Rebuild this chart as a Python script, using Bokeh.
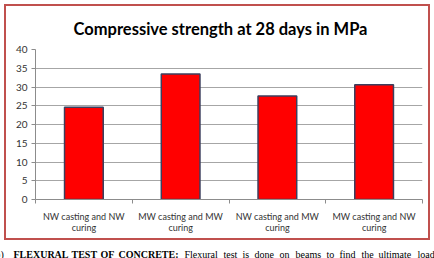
from bokeh.plotting import figure
from bokeh.layouts import column
from bokeh.models import Range1d, FixedTicker
from bokeh.core.properties import value
from bokeh.embed import file_html
from bokeh.resources import INLINE

# Compressive strength results (MPa) for each casting / curing water combination
categories = [
    "NW casting and NW\ncuring",
    "MW casting and MW\ncuring",
    "NW casting and MW\ncuring",
    "MW casting and NW\ncuring",
]
strength = [24.6, 33.5, 27.6, 30.6]
y_ticks = [0, 5, 10, 15, 20, 25, 30, 35, 40]

centers = [i + 0.5 for i in range(len(categories))]
bounds = list(range(len(categories) + 1))

p = figure(
    width=422, height=232,
    x_range=Range1d(0, len(categories)), y_range=Range1d(0, 40),
    output_backend="svg", toolbar_location=None,
    min_border_left=29, min_border_right=6,
    min_border_top=41, min_border_bottom=39,
    margin=(6, 0, 0, 6),
    styles={"outline": "2px solid #c0504d"},
)
p.background_fill_color = "white"
p.border_fill_color = "white"
p.outline_line_color = None

p.title.text = "Compressive strength at 28 days in MPa"
p.title.align = "left"
p.title.offset = 38
p.title.standoff = 21
p.title.text_font = "Lato"
p.title.text_font_style = "bold"
p.title.text_font_size = "16.5px"
p.title.text_color = "#000000"

# bars
p.vbar(x=centers, top=strength, width=0.4, bottom=0,
       fill_color="#ff0000", line_color="#3c3f5e", line_width=1.5)

# y axis
p.yaxis.ticker = FixedTicker(ticks=y_ticks)
p.yaxis.axis_line_color = "#8c8c8c"
p.yaxis.major_tick_line_color = "#8c8c8c"
p.yaxis.major_tick_out = 4
p.yaxis.major_tick_in = 0
p.yaxis.minor_tick_line_color = None
p.yaxis.major_label_standoff = 4
p.yaxis.major_label_text_font = "Lato"
p.yaxis.major_label_text_font_size = "10px"
p.yaxis.major_label_text_color = "#333333"

# x axis: labels at bar centres, tick marks between categories
p.xaxis.ticker = FixedTicker(ticks=centers, minor_ticks=bounds)
p.xaxis.major_label_overrides = {c: name for c, name in zip(centers, categories)}
p.xaxis.axis_line_color = "#8c8c8c"
p.xaxis.major_tick_line_color = None
p.xaxis.major_tick_out = 0
p.xaxis.major_tick_in = 0
p.xaxis.minor_tick_line_color = "#8c8c8c"
p.xaxis.minor_tick_out = 4
p.xaxis.minor_tick_in = 0
p.xaxis.major_label_standoff = 7
p.xaxis.major_label_text_font = "Lato"
p.xaxis.major_label_text_font_size = "9px"
p.xaxis.major_label_text_line_height = 1.05
p.xaxis.major_label_text_color = "#333333"

p.xgrid.grid_line_color = None
p.ygrid.grid_line_color = "#a6a6a6"
p.ygrid.ticker = FixedTicker(ticks=y_ticks)

# running text below the chart, one justified word at a time
note_words = ["b)", "FLEXURAL", "TEST", "OF", "CONCRETE:",
              "Flexural", "test", "is", "done", "on", "beams", "to",
              "find", "the", "ultimate", "load"]
note_x = [-5, 13, 71, 100, 118,
          184, 223, 242, 254, 279, 295, 326, 339, 361, 378, 417]
note_style = ["normal", "bold", "bold", "bold", "bold"] + ["normal"] * 11

q = figure(
    width=434, height=18,
    x_range=Range1d(0, 434), y_range=Range1d(18, 0),
    output_backend="svg", toolbar_location=None,
    x_axis_location=None, y_axis_location=None,
    min_border=0, margin=(2, 0, 0, 0),
)
q.outline_line_color = None
q.xgrid.grid_line_color = None
q.ygrid.grid_line_color = None
q.background_fill_color = "white"
q.border_fill_color = "white"
q.text(x=note_x, y=[14] * len(note_words), text=note_words,
       text_font=value("Liberation Serif"), text_font_size="10px",
       text_font_style=note_style,
       text_baseline="alphabetic", text_color="#000000")

for fig in (p, q):
    if "frame_align" in fig.properties():
        fig.frame_align = False

layout = column(p, q, spacing=0)
open("out.html", "w").write(file_html(layout, INLINE))
